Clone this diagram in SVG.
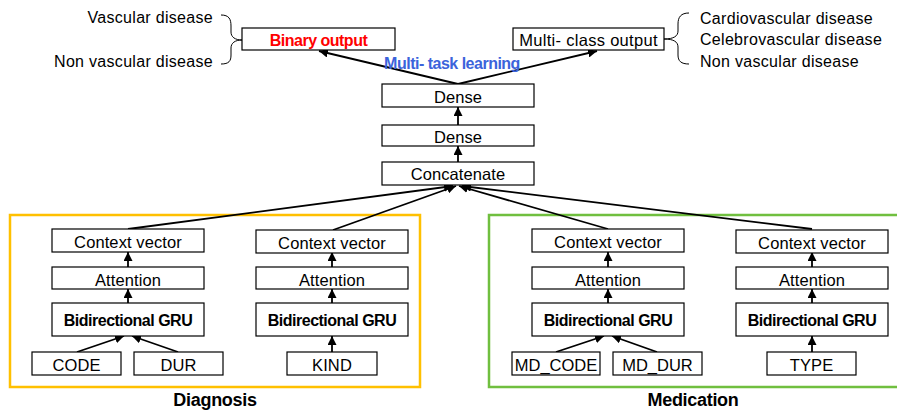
<svg xmlns="http://www.w3.org/2000/svg" width="897" height="410" viewBox="0 0 897 410">
<style>
.box{fill:#fff;stroke:#000;stroke-width:1.2}
.t{font-family:"Liberation Sans",Arial,sans-serif;font-size:16.5px;letter-spacing:0.1px;fill:#000;text-anchor:middle}
.b{font-family:"Liberation Sans",Arial,sans-serif;font-size:16px;font-weight:bold;letter-spacing:-0.5px;fill:#000;text-anchor:middle}
.lbl{font-family:"Liberation Sans",Arial,sans-serif;font-size:16px;letter-spacing:0.3px;fill:#000}
.e{fill:none;stroke:#000;stroke-width:1.8;marker-end:url(#ah)}
.br{fill:none;stroke:#000;stroke-width:1}
</style>
<defs>
<marker id="ah" viewBox="0 0 10 10" refX="10" refY="5" markerWidth="5" markerHeight="5" orient="auto" markerUnits="strokeWidth">
<path d="M0,0 L10,5 L0,10 z" fill="#000"/>
</marker>
</defs>
<g id="group-diagnosis"><rect x="10" y="215" width="410" height="172" fill="none" stroke="#FFC000" stroke-width="2.5"/><text x="215" y="406" class="b" style="font-size:18px;letter-spacing:-0.3px">Diagnosis</text></g>
<g id="group-medication"><rect x="489" y="215" width="420" height="172" fill="none" stroke="#70BF3F" stroke-width="2.5"/><text x="693" y="406" class="b" style="font-size:18px;letter-spacing:-0.3px">Medication</text></g>

<g id="connectors">
<path class="e" d="M458,84 L319,51"/>
<path class="e" d="M458,84 L597,51"/>
<path class="e" d="M458,125 L458,107"/>
<path class="e" d="M458,162 L458,146"/>
<path class="e" d="M128,229 L453,186"/>
<path class="e" d="M333,230 L456,186"/>
<path class="e" d="M608,229 L459,186"/>
<path class="e" d="M812,229 L462,186"/>
<path class="e" d="M128,303 L128,289"/>
<path class="e" d="M128,267 L128,252"/>
<path class="e" d="M332,303 L332,289"/>
<path class="e" d="M332,267 L332,252"/>
<path class="e" d="M608,303 L608,289"/>
<path class="e" d="M608,267 L608,252"/>
<path class="e" d="M812,303 L812,289"/>
<path class="e" d="M812,267 L812,252"/>
<path class="e" d="M77,352 L124,336"/>
<path class="e" d="M178,352 L132,336"/>
<path class="e" d="M332,352 L332,336"/>
<path class="e" d="M556,352 L604,336"/>
<path class="e" d="M657,352 L612,336"/>
<path class="e" d="M812,352 L812,336"/>
</g>

<g id="binary-output"><rect class="box" x="242" y="28" width="153" height="22"/><text x="318.5" y="46" class="b" style="fill:#FF0000">Binary output</text></g>
<g id="multiclass-output"><rect class="box" x="513" y="28" width="151" height="22"/><text x="588.5" y="46" class="t" style="letter-spacing:0.3px">Multi- class output</text></g>
<g id="mtl-label"><text x="452" y="69" class="b" style="fill:#3B63DB">Multi- task learning</text></g>
<g id="dense1"><rect class="box" x="382" y="84" width="152" height="23"/><text x="458" y="103" class="t">Dense</text></g>
<g id="dense2"><rect class="box" x="382" y="125" width="152" height="21"/><text x="458" y="143" class="t">Dense</text></g>
<g id="concatenate"><rect class="box" x="382" y="162" width="152" height="23"/><text x="458" y="180" class="t">Concatenate</text></g>

<g id="labels-left">
<text x="213" y="23" class="lbl" text-anchor="end">Vascular disease</text>
<text x="213" y="67" class="lbl" text-anchor="end">Non vascular disease</text>
<path class="br" d="M221,15 C229,15 231,19 231,26 L231,32 C231,37 235,40 242,40 C235,40 231,43 231,48 L231,55 C231,61 229,64 221,64"/>
</g>
<g id="labels-right">
<text x="700" y="24" class="lbl">Cardiovascular disease</text>
<text x="700" y="45" class="lbl">Celebrovascular disease</text>
<text x="700" y="67" class="lbl">Non vascular disease</text>
<path class="br" d="M689,13 C681,13 678,17 678,24 L678,31 C678,36 674,39 664,39 C674,39 678,42 678,47 L678,55 C678,61 681,64 689,64"/>
</g>

<g id="cv1"><rect class="box" x="52" y="229" width="152" height="23"/><text x="128" y="248" class="t">Context vector</text></g>
<g id="att1"><rect class="box" x="52" y="267" width="152" height="22"/><text x="128" y="286" class="t">Attention</text></g>
<g id="gru1"><rect class="box" x="52" y="303" width="152" height="33"/><text x="128" y="326" class="b">Bidirectional GRU</text></g>
<g id="code"><rect class="box" x="32" y="352" width="89" height="23"/><text x="76.5" y="371" class="t">CODE</text></g>
<g id="dur"><rect class="box" x="134" y="352" width="89" height="23"/><text x="178.5" y="371" class="t">DUR</text></g>

<g id="cv2"><rect class="box" x="256" y="230" width="152" height="23"/><text x="332" y="249" class="t">Context vector</text></g>
<g id="att2"><rect class="box" x="256" y="267" width="152" height="22"/><text x="332" y="286" class="t">Attention</text></g>
<g id="gru2"><rect class="box" x="256" y="303" width="152" height="33"/><text x="332" y="326" class="b">Bidirectional GRU</text></g>
<g id="kind"><rect class="box" x="287" y="352" width="90" height="23"/><text x="332" y="371" class="t">KIND</text></g>

<g id="cv3"><rect class="box" x="532" y="229" width="152" height="23"/><text x="608" y="248" class="t">Context vector</text></g>
<g id="att3"><rect class="box" x="532" y="267" width="152" height="22"/><text x="608" y="286" class="t">Attention</text></g>
<g id="gru3"><rect class="box" x="532" y="303" width="152" height="33"/><text x="608" y="326" class="b">Bidirectional GRU</text></g>
<g id="md-code"><rect class="box" x="512" y="352" width="88" height="23"/><text x="556" y="371" class="t" style="letter-spacing:0px">MD_CODE</text></g>
<g id="md-dur"><rect class="box" x="613" y="352" width="89" height="23"/><text x="657.5" y="371" class="t" style="letter-spacing:0px">MD_DUR</text></g>

<g id="cv4"><rect class="box" x="736" y="230" width="152" height="23"/><text x="812" y="249" class="t">Context vector</text></g>
<g id="att4"><rect class="box" x="736" y="267" width="152" height="22"/><text x="812" y="286" class="t">Attention</text></g>
<g id="gru4"><rect class="box" x="736" y="303" width="152" height="33"/><text x="812" y="326" class="b">Bidirectional GRU</text></g>
<g id="type"><rect class="box" x="767" y="352" width="89" height="23"/><text x="811.5" y="371" class="t">TYPE</text></g>
</svg>
